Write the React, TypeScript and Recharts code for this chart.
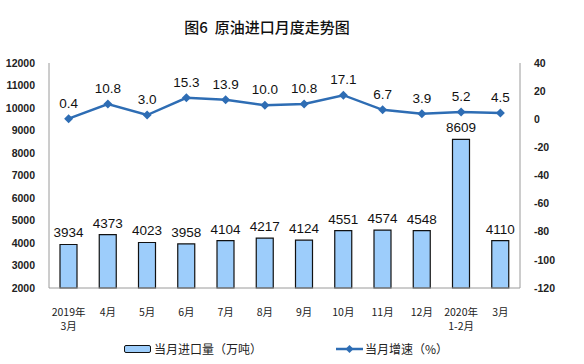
import React from "react";
import {
  ComposedChart,
  Bar,
  Line,
  XAxis,
  YAxis,
  LabelList,
} from "recharts";

const months = [
  "2019年\n3月",
  "4月",
  "5月",
  "6月",
  "7月",
  "8月",
  "9月",
  "10月",
  "11月",
  "12月",
  "2020年\n1-2月",
  "3月",
];
const importVolume = [3934, 4373, 4023, 3958, 4104, 4217, 4124, 4551, 4574, 4548, 8609, 4110];
const growthRate = [0.4, 10.8, 3.0, 15.3, 13.9, 10.0, 10.8, 17.1, 6.7, 3.9, 5.2, 4.5];
const leftTicks = [2000, 3000, 4000, 5000, 6000, 7000, 8000, 9000, 10000, 11000, 12000];
const rightTicks = [-120, -100, -80, -60, -40, -20, 0, 20, 40];

const BAR_FILL = "#9dcdfb";
const LINE_COLOR = "#2e6db4";
const AXIS_COLOR = "#9a9a9a";
const FONT = "'Liberation Sans', Arial, sans-serif";
const CJK = "'Noto Sans CJK SC', sans-serif";

const chartData = months.map((m, i) => ({
  month: m,
  volume: importVolume[i],
  rate: growthRate[i],
}));

function MonthTick(props: any) {
  const { x, y, payload } = props;
  const lines = String(payload.value).split("\n");
  return (
    <g>
      {lines.map((t, i) => (
        <text
          key={i}
          x={x}
          y={y + 20 + i * 14}
          textAnchor="middle"
          fontSize={10.5}
          fontFamily={CJK}
          fill="#222"
        >
          {t}
        </text>
      ))}
    </g>
  );
}

function Diamond(props: any) {
  const { cx, cy } = props;
  if (cx == null || cy == null) return null;
  const s = 4.5;
  return (
    <polygon
      points={`${cx},${cy - s} ${cx + s},${cy} ${cx},${cy + s} ${cx - s},${cy}`}
      fill={LINE_COLOR}
    />
  );
}

function RateLabel(props: any) {
  const { x, y, value } = props;
  return (
    <text x={x} y={y - 11} textAnchor="middle" fontSize={13.5} fontFamily={FONT} fill="#111">
      {Number(value).toFixed(1)}
    </text>
  );
}

function VolumeLabel(props: any) {
  const { x, y, width, value } = props;
  return (
    <text x={x + width / 2} y={y - 7} textAnchor="middle" fontSize={13.5} fontFamily={FONT} fill="#111">
      {value}
    </text>
  );
}

export default function App() {
  return (
    <div style={{ position: "absolute", left: 0, top: 0, width: 584, height: 364, background: "#fff" }}>
      <div
        style={{
          position: "absolute",
          left: 0,
          width: 534,
          top: 16,
          textAlign: "center",
          fontFamily: CJK,
          fontSize: 15,
          fontWeight: 500,
          color: "#111",
        }}
      >
        图6&nbsp;&nbsp;原油进口月度走势图
      </div>
      <ComposedChart
        width={584}
        height={364}
        data={chartData}
        margin={{ top: 63, right: 0, bottom: 46, left: 0 }}
        barCategoryGap={0}
      >
        <XAxis
          dataKey="month"
          height={30}
          interval={0}
          tick={<MonthTick />}
          tickLine={false}
          axisLine={{ stroke: AXIS_COLOR }}
        />
        <YAxis
          yAxisId="left"
          orientation="left"
          width={49}
          domain={[2000, 12000]}
          ticks={leftTicks}
          interval={0}
          tickLine={false}
          tickMargin={8}
          axisLine={{ stroke: AXIS_COLOR }}
          tick={{ fontSize: 10.5, fontFamily: FONT, fontWeight: "bold", fill: "#222" }}
        />
        <YAxis
          yAxisId="right"
          orientation="right"
          width={64}
          domain={[-120, 40]}
          ticks={rightTicks}
          interval={0}
          tickLine={false}
          tickMargin={8}
          axisLine={{ stroke: AXIS_COLOR }}
          tick={{ fontSize: 10.5, fontFamily: FONT, fontWeight: "bold", fill: "#222" }}
        />
        <Bar
          yAxisId="left"
          dataKey="volume"
          barSize={17}
          fill={BAR_FILL}
          stroke="#111"
          strokeWidth={1.2}
          isAnimationActive={false}
        >
          <LabelList dataKey="volume" content={<VolumeLabel />} />
        </Bar>
        <Line
          yAxisId="right"
          dataKey="rate"
          stroke={LINE_COLOR}
          strokeWidth={2.5}
          dot={<Diamond />}
          activeDot={false}
          isAnimationActive={false}
        >
          <LabelList dataKey="rate" content={<RateLabel />} />
        </Line>
      </ComposedChart>
      <div
        style={{
          position: "absolute",
          top: 340,
          left: 124,
          display: "flex",
          alignItems: "center",
          fontFamily: CJK,
          fontSize: 12,
          color: "#222",
        }}
      >
        <span
          style={{
            display: "inline-block",
            width: 25,
            height: 6,
            background: BAR_FILL,
            border: "1.5px solid #111",
            borderRadius: 2,
            marginRight: 3,
          }}
        />
        <span>当月进口量（万吨）</span>
        <span style={{ display: "inline-block", width: 74 }} />
        <svg width={27} height={10} style={{ marginRight: 2 }}>
          <line x1={0} y1={5} x2={27} y2={5} stroke={LINE_COLOR} strokeWidth={2.5} />
          <polygon points="13.5,1 17.5,5 13.5,9 9.5,5" fill={LINE_COLOR} />
        </svg>
        <span>当月增速（%）</span>
      </div>
    </div>
  );
}
